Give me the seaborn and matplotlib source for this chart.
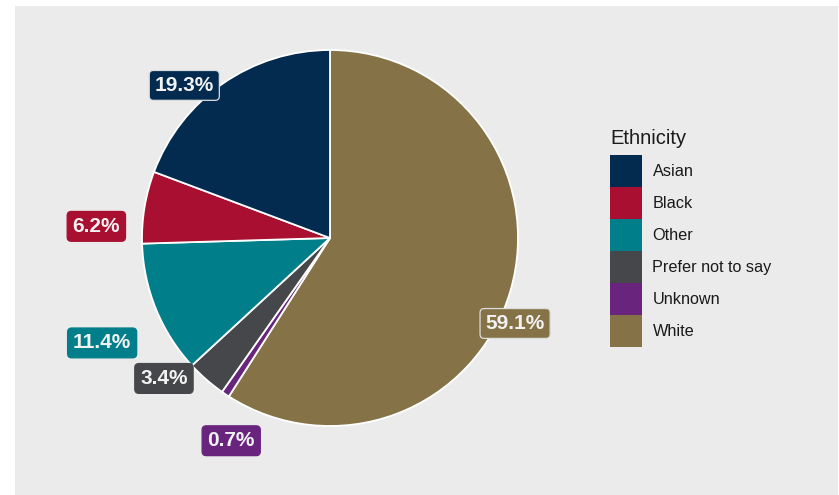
import matplotlib
matplotlib.use("Agg")
import matplotlib.pyplot as plt
from matplotlib.patches import Rectangle, Patch
import matplotlib.transforms as mtrans
import numpy as np
import seaborn as sns

# ---- data ----
categories = ["Asian", "Black", "Other", "Prefer not to say", "Unknown", "White"]
shares = [19.3, 6.2, 11.4, 3.4, 0.7, 59.1]
label_texts = ["19.3%", "6.2%", "11.4%", "3.4%", "0.7%", "59.1%"]
palette_hex = ["#022B4F", "#A80F30", "#007E89", "#46474B", "#69257E", "#857246"]

# ---- layout (label placement relative to wedge middle: angle nudge in deg, radius factor) ----
label_dtheta = [8.6, 6.1, 2.1, -9.0, 7.6, -8.0]
label_radius = [1.13, 1.245, 1.33, 1.15, 1.19, 1.08]
label_border = [True, False, False, False, False, True]

sns.set_style("white")
plt.rcParams["font.family"] = ["Liberation Sans", "DejaVu Sans"]
colors = sns.color_palette(palette_hex)

W, H = 839, 495
fig = plt.figure(figsize=(W / 100, H / 100), dpi=100)
fig.patch.set_facecolor("white")
fig.patches.append(Rectangle((15 / W, 0), (838 - 15) / W, (H - 6) / H,
                             transform=fig.transFigure, facecolor="#EBEBEB",
                             edgecolor="none", zorder=-10))

# pie axes: centre at (330, 238) px from top-left, radius 188 px
R = 188
k = 1.5
cx, cy = 330, H - 238
ax = fig.add_axes([(cx - k * R) / W, (cy - k * R) / H, 2 * k * R / W, 2 * k * R / H])
ax.set_facecolor("none")

# clockwise from 12 o'clock: White, Unknown, Prefer not to say, Other, Black, Asian
order = list(range(len(categories)))[::-1]
vals = [shares[i] for i in order]
cols = [colors[i] for i in order]
wedges, _ = ax.pie(vals, colors=cols, startangle=90, counterclock=False,
                   wedgeprops=dict(edgecolor="white", linewidth=1.3))
ax.set_xlim(-k, k)
ax.set_ylim(-k, k)
ax.set_axis_off()

shift = mtrans.ScaledTranslation(0, -2 / 100, fig.dpi_scale_trans)
for w, i in zip(wedges, order):
    mid = 0.5 * (w.theta1 + w.theta2) + label_dtheta[i]
    r = label_radius[i]
    x, y = r * np.cos(np.radians(mid)), r * np.sin(np.radians(mid))
    ax.text(x, y, label_texts[i], ha="center", va="center", fontsize=15,
            fontweight="bold", color="#F2F2F2", clip_on=False, zorder=5,
            transform=ax.transData + shift,
            bbox=dict(boxstyle="round,pad=0.26,rounding_size=0.2",
                      facecolor=colors[i],
                      edgecolor="#DDDDDD" if label_border[i] else colors[i],
                      linewidth=0.9))

# legend
leg_fs = 11.7
fs_px = leg_fs * 100 / 72
key_px = 32
# matplotlib's legend handle box height = fs*(0.65*h + 0.245); solve for 32 px
hh = (key_px / fs_px - 0.245) / 0.65
fig.text(610 / W, 1 - 143.5 / H, "Ethnicity", fontsize=14.5, color="#1A1A1A",
         ha="left", va="baseline")
handles = [Patch(facecolor=colors[i], edgecolor="none") for i in range(len(categories))]
leg = fig.legend(handles, categories, loc="upper left",
                 bbox_to_anchor=(610 / W, 1 - 155 / H),
                 frameon=False, fontsize=leg_fs, handlelength=key_px / fs_px,
                 handleheight=hh, labelspacing=0,
                 handletextpad=10.5 / fs_px,
                 borderpad=0, borderaxespad=0, labelcolor="#1A1A1A")

fig.savefig("out.png", dpi=100)
